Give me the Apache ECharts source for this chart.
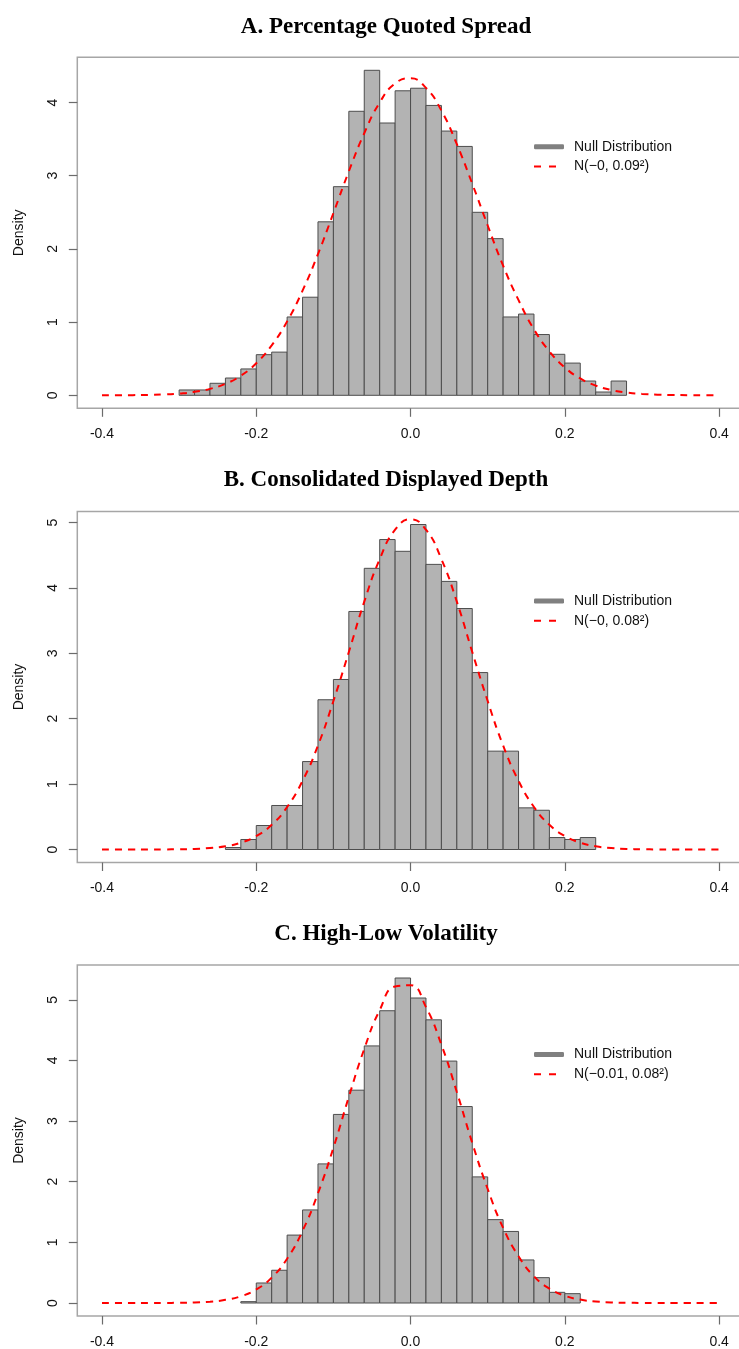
<!DOCTYPE html>
<html>
<head>
<meta charset="utf-8">
<title>Null distributions</title>
<script src="https://cdn.jsdelivr.net/npm/echarts@6/dist/echarts.min.js"></script>
<style>
  html, body { margin: 0; padding: 0; background: #fff; }
  #main { width: 739px; height: 1349px; }
</style>
</head>
<body>
<div id="main"></div>
<script>
const binWidth = 0.02
const xTicks = [-0.4, -0.2, 0, 0.2, 0.4]
const curveX = [-0.40, -0.38, -0.36, -0.34, -0.32, -0.30, -0.28, -0.26, -0.24, -0.22,
  -0.20, -0.18, -0.16, -0.14, -0.12, -0.10, -0.08, -0.06, -0.04, -0.02, 0.00,
  0.02, 0.04, 0.06, 0.08, 0.10, 0.12, 0.14, 0.16, 0.18, 0.20,
  0.22, 0.24, 0.26, 0.28, 0.30, 0.32, 0.34, 0.36, 0.38, 0.40]

// A. spread
const spreadBins = [-0.30, -0.28, -0.26, -0.24, -0.22, -0.20, -0.18, -0.16, -0.14, -0.12,
  -0.10, -0.08, -0.06, -0.04, -0.02, 0.00, 0.02, 0.04, 0.06, 0.08,
  0.10, 0.12, 0.14, 0.16, 0.18, 0.20, 0.22, 0.24, 0.26]
const spreadDensity = [0.073, 0.073, 0.164, 0.236, 0.36, 0.555, 0.59, 1.07, 1.34, 2.37,
  2.85, 3.88, 4.44, 3.72, 4.16, 4.195, 3.96, 3.61, 3.40, 2.50,
  2.14, 1.07, 1.11, 0.83, 0.56, 0.44, 0.195, 0.045, 0.195]
const spreadCurve = [0.0004, 0.001, 0.0023, 0.0053, 0.011, 0.024, 0.047, 0.088, 0.157, 0.268,
  0.438, 0.682, 1.01, 1.43, 1.93, 2.49, 3.06, 3.58, 4.00, 4.26, 4.33,
  4.20, 3.89, 3.43, 2.89, 2.32, 1.77, 1.30, 0.90, 0.60, 0.38,
  0.23, 0.133, 0.073, 0.038, 0.019, 0.009, 0.004, 0.0018, 0.0007, 0.0003]

// B. depth
const depthBins = [-0.24, -0.22, -0.20, -0.18, -0.16, -0.14, -0.12, -0.10, -0.08, -0.06,
  -0.04, -0.02, 0.00, 0.02, 0.04, 0.06, 0.08, 0.10, 0.12, 0.14,
  0.16, 0.18, 0.20, 0.22]
const depthDensity = [0.03, 0.153, 0.367, 0.673, 0.673, 1.345, 2.29, 2.60, 3.64, 4.30,
  4.74, 4.56, 4.97, 4.36, 4.10, 3.685, 2.706, 1.504, 1.504, 0.637,
  0.60, 0.183, 0.153, 0.183]
const depthCurve = [0, 0.0001, 0.0002, 0.0005, 0.0014, 0.0037, 0.0094, 0.0225, 0.050, 0.104,
  0.205, 0.377, 0.65, 1.05, 1.59, 2.27, 3.02, 3.79, 4.44, 4.89, 5.05,
  4.89, 4.44, 3.79, 3.02, 2.27, 1.59, 1.05, 0.65, 0.377, 0.205,
  0.104, 0.050, 0.0225, 0.0094, 0.0037, 0.0014, 0.0005, 0.0002, 0.0001, 0]

// C. volatility
const volBins = [-0.22, -0.20, -0.18, -0.16, -0.14, -0.12, -0.10, -0.08, -0.06, -0.04,
  -0.02, 0.00, 0.02, 0.04, 0.06, 0.08, 0.10, 0.12, 0.14, 0.16,
  0.18, 0.20]
const volDensity = [0.022, 0.33, 0.54, 1.12, 1.535, 2.294, 3.11, 3.51, 4.24, 4.82,
  5.36, 5.03, 4.67, 3.99, 3.24, 2.08, 1.375, 1.18, 0.71, 0.418,
  0.176, 0.154]
const volCurve = [0, 0, 0.0001, 0.0004, 0.0012, 0.0035, 0.009, 0.022, 0.052, 0.111,
  0.223, 0.418, 0.730, 1.19, 1.81, 2.56, 3.40, 4.19, 4.83, 5.22, 5.24,
  4.88, 4.26, 3.48, 2.64, 1.88, 1.24, 0.77, 0.44, 0.238, 0.120,
  0.056, 0.025, 0.010, 0.004, 0.0013, 0.0004, 0.0001, 0, 0, 0]

const panelTitles = ['A. Percentage Quoted Spread', 'B. Consolidated Displayed Depth', 'C. High-Low Volatility']
const curveNames = ['N(\u22120, 0.09\u00b2)', 'N(\u22120, 0.08\u00b2)', 'N(\u22120.01, 0.08\u00b2)']
const yTicks = [[0, 1, 2, 3, 4], [0, 1, 2, 3, 4, 5], [0, 1, 2, 3, 4, 5]]

const panels = [
  { bins: spreadBins, density: spreadDensity, curve: spreadCurve },
  { bins: depthBins, density: depthDensity, curve: depthCurve },
  { bins: volBins, density: volDensity, curve: volCurve }
]

const gridTops = [57.3, 511.5, 965]
const titleY = [27, 480.5, 934]
const sans = '"Liberation Sans", Arial, sans-serif'
const tickStyle = { color: '#6b6b6b', width: 1.2 }

function renderBar(params, api) {
  const base = api.coord([api.value(0), 0])
  const top = api.coord([api.value(1), api.value(2)])
  return {
    type: 'rect',
    shape: { x: base[0], y: top[1], width: top[0] - base[0], height: base[1] - top[1] },
    style: { fill: '#b3b3b3', stroke: '#4d4d4d', lineWidth: 1 }
  }
}

const grid = [], xAxis = [], yAxis = [], series = [], legend = [], graphic = []

panels.forEach((p, i) => {
  const hmax = Math.max(...p.density)
  grid.push({
    left: 77.3, top: gridTops[i], width: 666.5, height: 351,
    show: true, borderColor: '#a6a6a6', borderWidth: 1.5,
    containLabel: false, outerBoundsMode: 'none'
  })
  xAxis.push({
    type: 'value', gridIndex: i, position: 'bottom', min: -0.432, max: 0.432,
    axisLine: { show: false, onZero: false },
    splitLine: { show: false },
    axisTick: { show: true, customValues: xTicks, length: 8.5, lineStyle: tickStyle },
    axisLabel: {
      customValues: xTicks, margin: 19, fontSize: 14, color: '#111', fontFamily: sans,
      formatter: v => v.toFixed(1)
    }
  })
  yAxis.push({
    type: 'value', gridIndex: i, position: 'left', min: -0.04 * hmax, max: 1.04 * hmax,
    name: 'Density', nameLocation: 'middle', nameRotate: 90, nameGap: 51,
    nameTextStyle: { fontSize: 14, color: '#111', fontFamily: sans },
    axisLine: { show: false, onZero: false },
    splitLine: { show: false },
    axisTick: { show: true, customValues: yTicks[i], length: 8.5, lineStyle: tickStyle },
    axisLabel: {
      customValues: yTicks[i], rotate: 90, margin: 17.5, fontSize: 14, color: '#111', fontFamily: sans,
      formatter: v => String(Math.round(v))
    }
  })
  series.push({
    name: 'Null Distribution',
    type: 'custom',
    xAxisIndex: i, yAxisIndex: i,
    renderItem: renderBar,
    encode: { x: [0, 1], y: 2 },
    data: p.bins.map((b, k) => [b, b + binWidth, p.density[k]]),
    z: 2
  })
  series.push({
    name: curveNames[i],
    type: 'line',
    xAxisIndex: i, yAxisIndex: i,
    data: curveX.map((x, k) => [x, p.curve[k]]),
    smooth: true,
    symbol: 'none',
    lineStyle: { color: '#ff0000', width: 2, type: [7, 6] },
    itemStyle: { color: '#ff0000' },
    z: 3
  })
  legend.push({
    orient: 'vertical',
    left: 533,
    top: gridTops[i] + 82.5,
    padding: 0,
    itemWidth: 30,
    itemHeight: 5,
    itemGap: 5.7,
    selectedMode: false,
    textStyle: { fontSize: 14, color: '#111', fontFamily: sans, padding: [0, 0, 0, 5] },
    data: [
      { name: 'Null Distribution', icon: 'roundRect', itemStyle: { color: '#808080', borderWidth: 0 } },
      { name: curveNames[i], itemStyle: { opacity: 0 }, lineStyle: { color: '#ff0000', width: 2, type: [7, 8] } }
    ]
  })
  graphic.push({
    type: 'text',
    x: 386,
    y: titleY[i],
    style: {
      text: panelTitles[i],
      fontSize: 23,
      fontWeight: 'bold',
      fontFamily: '"Liberation Serif", "Times New Roman", serif',
      fill: '#000',
      align: 'center',
      verticalAlign: 'middle',
      textAlign: 'center',
      textVerticalAlign: 'middle'
    }
  })
})

const myChart = echarts.init(document.getElementById('main'), null, { renderer: 'canvas' })
myChart.setOption({
  animation: false,
  backgroundColor: '#fff',
  grid,
  xAxis,
  yAxis,
  legend,
  graphic,
  series
})
</script>
</body>
</html>
